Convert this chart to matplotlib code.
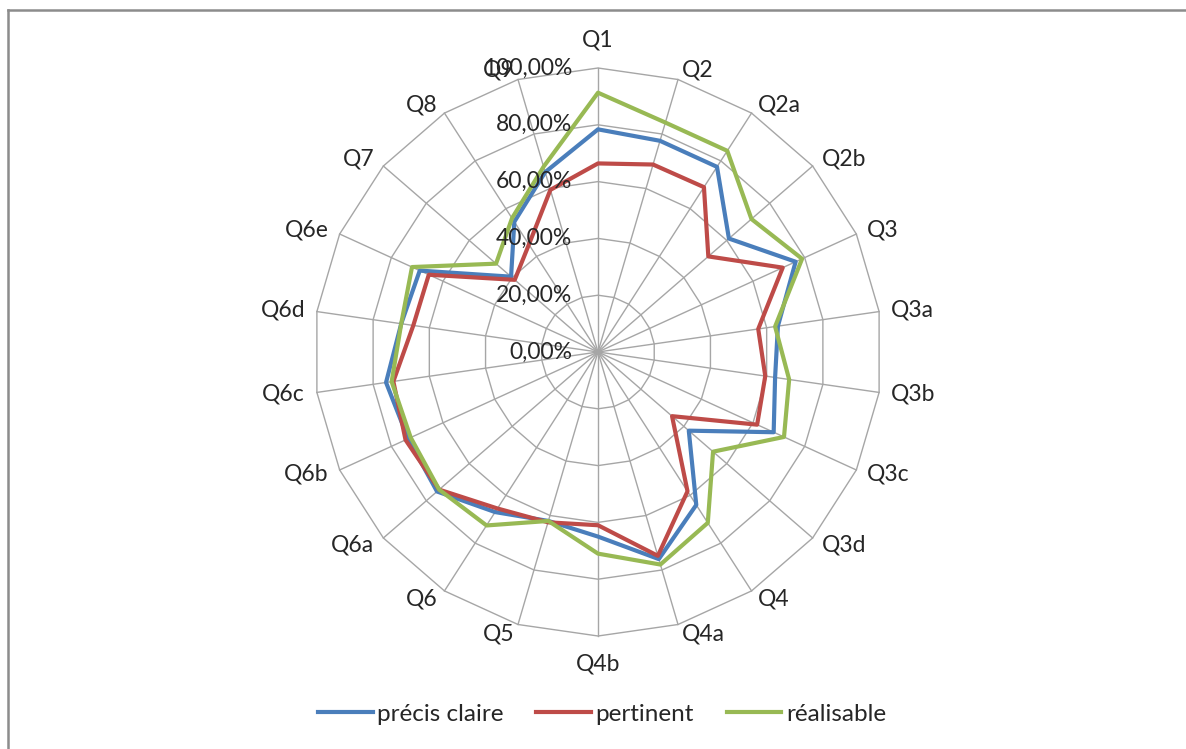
import numpy as np
import matplotlib.pyplot as plt
from matplotlib.lines import Line2D
from matplotlib.patches import Polygon

# Données (en %)
categories = ['Q1', 'Q2', 'Q2a', 'Q2b', 'Q3', 'Q3a', 'Q3b', 'Q3c', 'Q3d', 'Q4', 'Q4a',
              'Q4b', 'Q5', 'Q6', 'Q6a', 'Q6b', 'Q6c', 'Q6d', 'Q6e', 'Q7', 'Q8', 'Q9']

precis_claire = [78.4, 77.5, 77.5, 61.0, 76.5, 64.0, 63.0, 68.0, 42.3, 64.0, 76.0,
                 65.0, 62.0, 67.0, 75.0, 73.5, 75.4, 70.0, 69.0, 40.5, 54.5, 66.0]
pertinent = [66.4, 68.8, 69.0, 51.4, 71.5, 57.0, 59.5, 61.6, 34.5, 58.3, 74.8,
             61.0, 62.5, 65.5, 74.0, 74.5, 72.8, 65.7, 65.5, 38.8, 45.0, 59.5]
realisable = [91.3, 84.2, 84.2, 71.5, 79.0, 63.0, 68.0, 72.0, 53.6, 71.5, 78.0,
              71.0, 62.0, 72.6, 74.0, 72.5, 73.4, 70.0, 72.0, 47.5, 56.0, 68.0]

series_names = ['précis claire', 'pertinent', 'réalisable']
series_colors = ['#4a7ebb', '#be4b48', '#98b954']

tick_values = [0, 20, 40, 60, 80, 100]
tick_labels = ['0,00%', '20,00%', '40,00%', '60,00%', '80,00%', '100,00%']

plt.rcParams['font.family'] = ['Lato', 'DejaVu Sans']
plt.rcParams['path.simplify'] = False

n = len(categories)
theta = np.arange(n) * 2 * np.pi / n
sin_t, cos_t = np.sin(theta), np.cos(theta)

W, H = 1186, 749
cx, cy, R = 598, 352, 284  # centre et rayon (pixels)

fig = plt.figure(figsize=(W / 100, H / 100), dpi=100)
ax = fig.add_axes([0, 0, 1, 1])
ax.set_xlim(-cx / R, (W - cx) / R)
ax.set_ylim(-(H - cy) / R, cy / R)
ax.axis('off')

grid_color = '#a6a6a6'
# grille polygonale
for v in tick_values[1:]:
    r = v / 100
    ax.add_patch(Polygon(np.column_stack([r * sin_t, r * cos_t]), closed=True,
                         fill=False, edgecolor=grid_color, lw=1.0, zorder=1))
# rayons
for s, c in zip(sin_t, cos_t):
    ax.plot([0, s], [0, c], color=grid_color, lw=1.0, zorder=1)

# séries
handles = []
for vals, name, col in zip([precis_claire, pertinent, realisable], series_names, series_colors):
    r = np.array(vals) / 100
    ax.add_patch(Polygon(np.column_stack([r * sin_t, r * cos_t]), closed=True,
                         fill=False, edgecolor=col, lw=3.0, joinstyle='round', zorder=3))
    handles.append(Line2D([], [], color=col, lw=3.0, label=name))

# étiquettes des axes (Q1, Q2...)
for lab, s, c in zip(categories, sin_t, cos_t):
    if abs(s) < 0.01:
        ha, off = 'center', (0, 28 * np.sign(c))
    else:
        ha = 'left' if s > 0 else 'right'
        off = (12 * s, 10 * c)
    ax.annotate(lab, xy=(s, c), xytext=off, textcoords='offset pixels',
                ha=ha, va='center', fontsize=16.5, color='#262626', zorder=4)

# graduations
for v, lab in zip(tick_values, tick_labels):
    ax.text(-26 / R, v / 100, lab, ha='right', va='center', fontsize=16.5,
            color='#262626', zorder=4)

leg = ax.legend(handles=handles, loc='center', bbox_to_anchor=(602 / W, 1 - 714 / H),
                bbox_transform=fig.transFigure, ncol=3, frameon=False,
                handlelength=2.25, handletextpad=0.18, columnspacing=1.35,
                prop={'size': 17.5})
for t in leg.get_texts():
    t.set_color('#262626')

# cadre (haut et gauche)
fig.add_artist(Line2D([8 / W, 1], [1 - 10 / H, 1 - 10 / H], transform=fig.transFigure,
                      color='#8c8c8c', lw=1.8))
fig.add_artist(Line2D([8 / W, 8 / W], [0, 1 - 10 / H], transform=fig.transFigure,
                      color='#8c8c8c', lw=1.8))

fig.savefig('out.png', dpi=100)
